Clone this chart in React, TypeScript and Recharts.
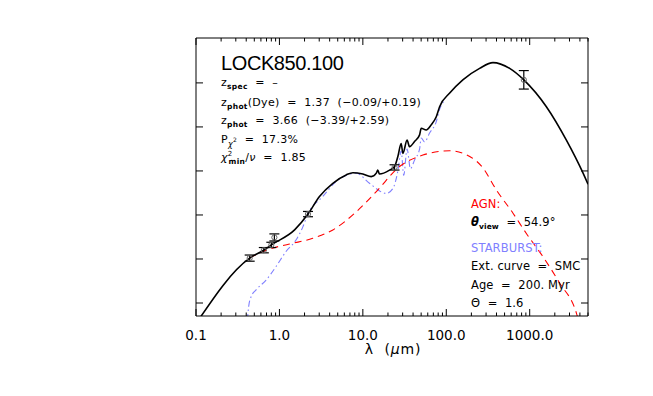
import { ComposedChart, Line, Scatter, XAxis, YAxis, ErrorBar } from "recharts";

// wavelength (micron) and log flux (arbitrary units, one unit per y tick)
const totalLam = [0.1, 0.44, 0.65, 0.8, 1.52, 2.2, 3.02, 4.37, 6.31, 7.59, 10.0, 12.6, 14.5, 15.1, 15.8, 20.9, 24, 26.3, 28.8, 30.2, 33.9, 36.3, 41.7, 47.9, 50.1, 57.5, 66.1, 75.9, 83.2, 110, 158, 251, 363, 575, 850, 1585, 2754, 4365, 5000];
const totalFlux = [-0.47, 1.02, 1.2, 1.32, 1.66, 2.02, 2.42, 2.72, 2.91, 2.96, 2.93, 2.87, 2.95, 3.02, 2.93, 3.02, 3.1, 3.33, 3.62, 3.4, 3.7, 3.55, 3.67, 3.82, 3.97, 3.93, 4.05, 4.23, 4.46, 4.77, 5.07, 5.33, 5.46, 5.33, 5.07, 4.46, 3.7, 2.95, 2.7];

const agnLam = [0.437, 0.692, 1.32, 2.51, 4.37, 8.32, 14.5, 27.5, 52.5, 110, 191, 275, 398, 631, 912, 1445, 2291, 3631, 3981];
const agnFlux = [1.02, 1.2, 1.34, 1.47, 1.66, 2.07, 2.53, 3.1, 3.36, 3.46, 3.33, 3.07, 2.57, 2.04, 1.58, 1.05, 0.45, -0.23, -0.5];

const sbLam = [0.413, 0.428, 0.457, 0.525, 0.692, 0.912, 1.2, 1.58, 1.91, 2.19, 3.31, 4.79, 8.32, 12.0, 19.1, 22.9, 26.3, 28.8, 30.9, 33.9, 37.2, 41.7, 47.9, 50.1, 55.0, 63.1, 75.9, 83.2, 95.5];
const sbFlux = [-0.39, -0.08, 0.14, 0.3, 0.52, 0.83, 1.17, 1.43, 1.73, 2.02, 2.42, 2.76, 2.95, 2.72, 2.49, 2.6, 3.0, 3.45, 2.9, 3.5, 3.05, 3.25, 3.5, 3.75, 3.66, 3.86, 4.12, 4.4, 4.6];

const obsLam = [0.44, 0.65, 0.8, 0.87, 2.2, 24, 850];
const obsFlux = [1.02, 1.2, 1.32, 1.49, 2.02, 3.08, 5.07];
const obsErr = [0.07, 0.06, 0.06, 0.08, 0.06, 0.06, 0.21];

const xTicks = [0.1, 0.2, 0.3, 0.4, 0.5, 0.6, 0.7, 0.8, 0.9, 1, 2, 3, 4, 5, 6, 7, 8, 9, 10, 20, 30, 40, 50, 60, 70, 80, 90, 100, 200, 300, 400, 500, 600, 700, 800, 900, 1000, 2000, 3000, 4000, 5000];
const xMajor = [0.1, 1, 10, 100, 1000];
const xMajorLabels = ["0.1", "1.0", "10.0", "100.0", "1000.0"];
const yTicks = [0, 1, 2, 3, 4, 5];

const pairs = (xs: number[], ys: number[]) => xs.map((lam, i) => ({ lam, y: ys[i] }));
const totalData = pairs(totalLam, totalFlux);
const agnData = pairs(agnLam, agnFlux);
const sbData = pairs(sbLam, sbFlux);
const obsData = obsLam.map((lam, i) => ({ lam, y: obsFlux[i], err: obsErr[i] }));

const FONT = "DejaVu Sans";
const SB_BLUE = "#7f7fff";

function BottomTick({ x, y, payload }: any) {
  const idx = xMajor.indexOf(payload.value);
  const major = idx >= 0;
  return (
    <g>
      <line x1={x} x2={x} y1={y} y2={y - (major ? 7 : 3.5)} stroke="#000" />
      {major && (
        <text x={x} y={y + 24} textAnchor="middle" fontFamily={FONT} fontSize={13.5} fill="#000">
          {xMajorLabels[idx]}
        </text>
      )}
    </g>
  );
}

function TopTick({ x, y, payload }: any) {
  const major = xMajor.includes(payload.value);
  return <line x1={x} x2={x} y1={y} y2={y + (major ? 7 : 3.5)} stroke="#000" />;
}

function LeftTick({ x, y }: any) {
  return <line x1={x} x2={x + 7} y1={y} y2={y} stroke="#000" />;
}

function RightTick({ x, y }: any) {
  return <line x1={x} x2={x - 7} y1={y} y2={y} stroke="#000" />;
}

function ObsPoint({ cx, cy }: any) {
  return <circle cx={cx} cy={cy} r={2.6} fill="none" stroke="#666" strokeWidth={1} />;
}

const sub = { fontSize: 7.5, fontWeight: "bold" as const };

function Annotations() {
  const txt = { fontFamily: FONT, fontSize: 11, letterSpacing: 0.3, fill: "#000", style: { whiteSpace: "pre" as const } };
  const txtR = { ...txt, fontSize: 11.5, letterSpacing: 0.1 };
  return (
    <svg width={653} height={396} style={{ position: "absolute", left: 0, top: 0, pointerEvents: "none" }}>
      <text x={221} y={70} fontFamily="Liberation Sans" fontSize={20} letterSpacing={-0.4} fill="#000">
        LOCK850.100
      </text>
      <text x={221} y={86} {...txt}>
        z<tspan {...sub} dy={3}>spec</tspan>
        <tspan dy={-3}>  =  –</tspan>
      </text>
      <text x={221} y={105.5} {...txt}>
        z<tspan {...sub} dy={3}>phot</tspan>
        <tspan dy={-3}>(Dye)  =  1.37  (−0.09/+0.19)</tspan>
      </text>
      <text x={221} y={124} {...txt}>
        z<tspan {...sub} dy={3}>phot</tspan>
        <tspan dy={-3}>  =  3.66  (−3.39/+2.59)</tspan>
      </text>
      <text x={221} y={142.5} {...txt}>
        P<tspan fontSize={8} fontStyle="italic" dy={4}>χ</tspan>
        <tspan fontSize={6} dy={-5}>2</tspan>
        <tspan dy={1}>  =  17.3%</tspan>
      </text>
      <text x={221} y={161} {...txt}>
        <tspan fontStyle="italic">χ</tspan>
        <tspan fontSize={7} dy={-5}>2</tspan>
        <tspan {...sub} dx={-4} dy={8}>min</tspan>
        <tspan dy={-3}>/</tspan>
        <tspan fontStyle="italic">ν</tspan>
        <tspan>  =  1.85</tspan>
      </text>

      <text x={471} y={207.5} {...txtR} fill="#ff0000">AGN:</text>
      <text x={471} y={226} {...txtR}>
        <tspan fontStyle="italic" fontWeight="bold">θ</tspan>
        <tspan {...sub} dy={3}>view</tspan>
        <tspan dy={-3}>  =  54.9°</tspan>
      </text>
      <text x={471} y={251.5} {...txtR} fill={SB_BLUE}>STARBURST:</text>
      <text x={471} y={270} {...txtR}>Ext. curve  =  SMC</text>
      <text x={471} y={289} {...txtR}>Age  =  200. Myr</text>
      <text x={471} y={307} {...txtR}>Θ  =  1.6</text>

      <text x={393} y={354} textAnchor="middle" fontFamily={FONT} fontSize={14} letterSpacing={0.8} fill="#000" style={{ whiteSpace: "pre" }}>
        λ  (<tspan fontStyle="italic">μ</tspan>m)
      </text>
    </svg>
  );
}

export default function App() {
  return (
    <div style={{ position: "absolute", left: 0, top: 0, width: 653, height: 396, background: "#fff" }}>
      <ComposedChart width={653} height={396} margin={{ top: 28, right: 55, bottom: 50, left: 186 }}>
        <XAxis
          dataKey="lam"
          type="number"
          scale="log"
          domain={[0.1, 5000]}
          allowDataOverflow
          ticks={xTicks}
          interval={0}
          height={30}
          tickSize={0}
          tickMargin={0}
          tickLine={false}
          tick={<BottomTick />}
          axisLine={{ stroke: "#000" }}
        />
        <XAxis
          xAxisId="top"
          orientation="top"
          dataKey="lam"
          type="number"
          scale="log"
          domain={[0.1, 5000]}
          allowDataOverflow
          ticks={xTicks}
          interval={0}
          height={10}
          tickSize={0}
          tickMargin={0}
          tickLine={false}
          tick={<TopTick />}
          axisLine={{ stroke: "#000" }}
        />
        <YAxis
          dataKey="y"
          type="number"
          domain={[-0.295, 6.02]}
          allowDataOverflow
          ticks={yTicks}
          interval={0}
          width={10}
          tickSize={0}
          tickMargin={0}
          tickLine={false}
          tick={<LeftTick />}
          axisLine={{ stroke: "#000" }}
        />
        <YAxis
          yAxisId="right"
          orientation="right"
          dataKey="y"
          type="number"
          domain={[-0.295, 6.02]}
          allowDataOverflow
          ticks={yTicks}
          interval={0}
          width={10}
          tickSize={0}
          tickMargin={0}
          tickLine={false}
          tick={<RightTick />}
          axisLine={{ stroke: "#000" }}
        />
        <Line data={sbData} dataKey="y" type="monotone" stroke={SB_BLUE} strokeWidth={1.1} strokeDasharray="6 3 1.5 3" dot={false} isAnimationActive={false} />
        <Line data={agnData} dataKey="y" type="monotone" stroke="#ff0000" strokeWidth={1.1} strokeDasharray="7 5" dot={false} isAnimationActive={false} />
        <Line data={totalData} dataKey="y" type="monotone" stroke="#000" strokeWidth={1.6} dot={false} isAnimationActive={false} />
        <Scatter data={obsData} dataKey="y" shape={<ObsPoint />} isAnimationActive={false}>
          <ErrorBar dataKey="err" direction="y" width={5} stroke="#000" strokeWidth={1.2} />
        </Scatter>
      </ComposedChart>
      <Annotations />
    </div>
  );
}
